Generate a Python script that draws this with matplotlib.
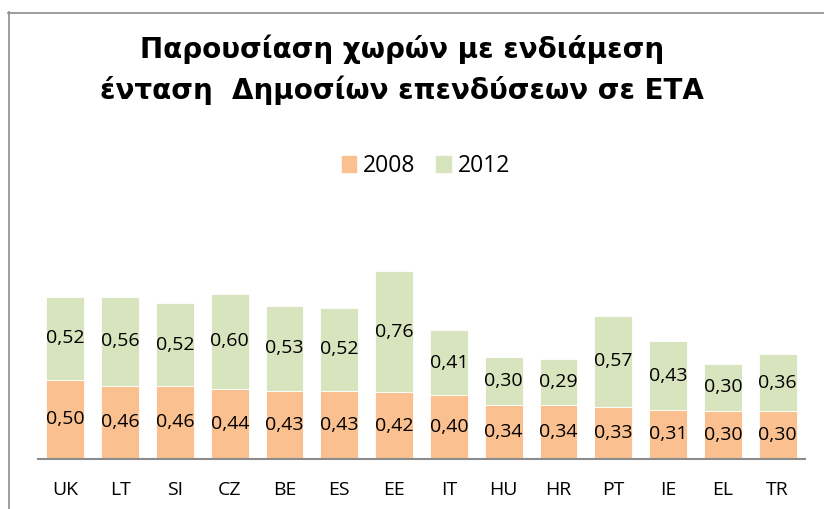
import matplotlib
matplotlib.use('Agg')
import matplotlib.pyplot as plt
from matplotlib.lines import Line2D
from matplotlib.patches import Patch
import numpy as np

CLR_2008 = '#FAC090'
CLR_2012 = '#D7E4BD'
CLR_FRAME = '#8C8C8C'

countries = ['UK', 'LT', 'SI', 'CZ', 'BE', 'ES', 'EE', 'IT', 'HU', 'HR', 'PT', 'IE', 'EL', 'TR']
values_2008 = [0.50, 0.46, 0.46, 0.44, 0.43, 0.43, 0.42, 0.40, 0.34, 0.34, 0.33, 0.31, 0.30, 0.30]
values_2012 = [0.52, 0.56, 0.52, 0.60, 0.53, 0.52, 0.76, 0.41, 0.30, 0.29, 0.57, 0.43, 0.30, 0.36]
title = 'Παρουσίαση χωρών με ενδιάμεση\nένταση  Δημοσίων επενδύσεων σε ΕΤΑ'

W, H = 824, 509
plt.rcParams['font.family'] = ['Open Sans', 'DejaVu Sans']

fig = plt.figure(figsize=(W / 100, H / 100), dpi=100)

# chart frame (only top and left edges visible in the crop)
fig.add_artist(Line2D([8.5 / W, 8.5 / W], [0, 1 - 12 / H], color=CLR_FRAME, lw=1.2))
fig.add_artist(Line2D([8 / W, 1], [1 - 12.5 / H, 1 - 12.5 / H], color=CLR_FRAME, lw=1.2))

ymax = 1.4
px_per_unit = 159
ax = fig.add_axes([38 / W, (H - 459) / H, (805 - 38) / W, ymax * px_per_unit / H])
x = np.arange(len(countries))
b1 = ax.bar(x, values_2008, width=0.69, color=CLR_2008, edgecolor='white', linewidth=0.6)
b2 = ax.bar(x, values_2012, width=0.69, bottom=values_2008, color=CLR_2012,
            edgecolor='white', linewidth=0.6)

fmt = lambda v: f'{v:.2f}'.replace('.', ',')
ax.bar_label(b1, labels=[fmt(v) for v in values_2008], label_type='center', fontsize=14)
ax.bar_label(b2, labels=[fmt(v) for v in values_2012], label_type='center', fontsize=14)

ax.set_xlim(-0.5, len(countries) - 0.5)
ax.set_ylim(0, ymax)
for side in ('top', 'right', 'left'):
    ax.spines[side].set_visible(False)
ax.spines['bottom'].set_color(CLR_FRAME)
ax.spines['bottom'].set_linewidth(1.5)
ax.set_yticks([])
ax.set_xticks(x)
ax.set_xticklabels(countries, fontsize=14)
ax.tick_params(axis='x', length=0, pad=16)

fig.text(402 / W, 1 - 70 / H, title, ha='center', va='center', fontsize=20,
         fontweight='bold', family='DejaVu Sans', linespacing=1.5)

handles = [Patch(color=CLR_2008), Patch(color=CLR_2012)]
fig.legend(handles, ['2008', '2012'], loc='center', bbox_to_anchor=(426 / W, 1 - 166 / H),
           ncol=2, frameon=False, fontsize=16.5, handlelength=0.65, handleheight=0.65,
           handletextpad=0.3, columnspacing=0.9)

fig.savefig('out.png', dpi=100)
